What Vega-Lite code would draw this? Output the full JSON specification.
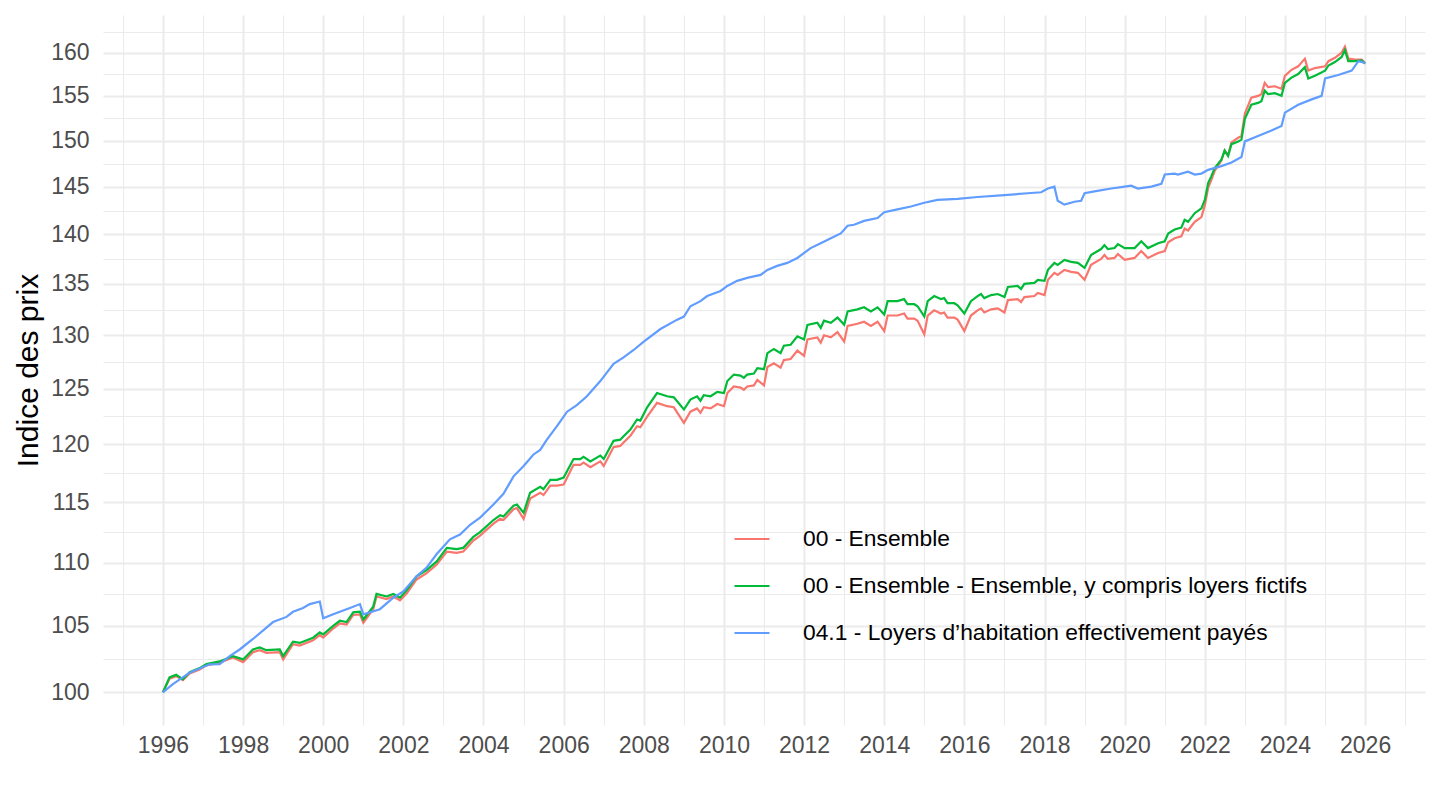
{
  "$schema": "https://vega.github.io/schema/vega-lite/v6.json",
  "width": 1322,
  "height": 710,
  "autosize": "none",
  "padding": {"left": 103, "top": 15, "right": 15, "bottom": 85},
  "background": "white",
  "config": {
    "view": {"stroke": null},
    "font": "Liberation Sans"
  },
  "datasets": {
    "ens": [
      {"d":"1996-01-01","v":100.0},{"d":"1996-03-01","v":101.0},{"d":"1996-05-01","v":101.2},{"d":"1996-07-01","v":100.9},{"d":"1996-09-01","v":101.4},{"d":"1996-12-01","v":101.7},
      {"d":"1997-02-01","v":102.0},{"d":"1997-06-01","v":102.2},{"d":"1997-10-01","v":102.6},
      {"d":"1998-01-01","v":102.25},{"d":"1998-04-01","v":103.0},{"d":"1998-06-01","v":103.15},{"d":"1998-08-01","v":102.95},{"d":"1998-12-01","v":103.0},
      {"d":"1999-01-01","v":102.45},{"d":"1999-04-01","v":103.6},{"d":"1999-06-01","v":103.5},{"d":"1999-10-01","v":103.9},{"d":"1999-12-01","v":104.3},
      {"d":"2000-01-01","v":104.1},{"d":"2000-04-01","v":104.8},{"d":"2000-06-01","v":105.2},{"d":"2000-08-01","v":105.1},{"d":"2000-10-01","v":105.85},{"d":"2000-12-01","v":105.9},
      {"d":"2001-01-01","v":105.25},{"d":"2001-04-01","v":106.3},{"d":"2001-05-01","v":107.3},{"d":"2001-08-01","v":107.1},{"d":"2001-10-01","v":107.3},{"d":"2001-12-01","v":107.0},
      {"d":"2002-02-01","v":107.55},{"d":"2002-05-01","v":108.65},{"d":"2002-08-01","v":109.15},{"d":"2002-11-01","v":109.85},
      {"d":"2003-02-01","v":110.9},{"d":"2003-05-01","v":110.8},{"d":"2003-07-01","v":110.9},{"d":"2003-10-01","v":111.8},{"d":"2003-12-01","v":112.2},
      {"d":"2004-04-01","v":113.2},{"d":"2004-06-01","v":113.6},{"d":"2004-07-01","v":113.5},{"d":"2004-10-01","v":114.4},{"d":"2004-11-01","v":114.5},
      {"d":"2005-01-01","v":113.6},{"d":"2005-03-01","v":115.3},{"d":"2005-06-01","v":115.8},{"d":"2005-07-01","v":115.6},{"d":"2005-09-01","v":116.4},{"d":"2005-11-01","v":116.4},
      {"d":"2006-01-01","v":116.5},{"d":"2006-04-01","v":118.2},{"d":"2006-06-01","v":118.2},{"d":"2006-07-01","v":118.4},{"d":"2006-09-01","v":118.0},{"d":"2006-12-01","v":118.5},
      {"d":"2007-01-01","v":118.1},{"d":"2007-04-01","v":119.75},{"d":"2007-06-01","v":119.85},{"d":"2007-07-01","v":120.15},{"d":"2007-09-01","v":120.75},{"d":"2007-11-01","v":121.6},{"d":"2007-12-01","v":121.5},
      {"d":"2008-02-01","v":122.45},{"d":"2008-05-01","v":123.7},{"d":"2008-08-01","v":123.4},{"d":"2008-10-01","v":123.3},
      {"d":"2009-01-01","v":121.9},{"d":"2009-03-01","v":122.9},{"d":"2009-05-01","v":123.2},{"d":"2009-06-01","v":122.8},{"d":"2009-07-01","v":123.3},{"d":"2009-09-01","v":123.2},{"d":"2009-11-01","v":123.6},
      {"d":"2010-01-01","v":123.4},{"d":"2010-02-01","v":124.6},{"d":"2010-04-01","v":125.2},{"d":"2010-06-01","v":125.1},{"d":"2010-07-01","v":124.9},{"d":"2010-08-01","v":125.2},{"d":"2010-10-01","v":125.3},{"d":"2010-11-01","v":125.8},
      {"d":"2011-01-01","v":125.3},{"d":"2011-02-01","v":127.0},{"d":"2011-04-01","v":127.35},{"d":"2011-06-01","v":126.95},{"d":"2011-07-01","v":127.65},{"d":"2011-09-01","v":127.75},{"d":"2011-11-01","v":128.55},
      {"d":"2012-01-01","v":128.05},{"d":"2012-02-01","v":129.6},{"d":"2012-05-01","v":129.8},{"d":"2012-06-01","v":129.3},{"d":"2012-07-01","v":130.0},{"d":"2012-09-01","v":129.8},{"d":"2012-11-01","v":130.3},
      {"d":"2013-01-01","v":129.4},{"d":"2013-02-01","v":130.9},{"d":"2013-05-01","v":131.1},{"d":"2013-07-01","v":131.3},{"d":"2013-09-01","v":130.9},{"d":"2013-11-01","v":131.3},
      {"d":"2014-01-01","v":130.4},{"d":"2014-02-01","v":131.9},{"d":"2014-05-01","v":131.9},{"d":"2014-07-01","v":132.1},{"d":"2014-08-01","v":131.6},{"d":"2014-10-01","v":131.6},{"d":"2014-11-01","v":131.4},
      {"d":"2015-01-01","v":130.1},{"d":"2015-02-01","v":131.9},{"d":"2015-04-01","v":132.4},{"d":"2015-06-01","v":132.1},{"d":"2015-07-01","v":132.2},{"d":"2015-08-01","v":131.7},{"d":"2015-10-01","v":131.7},{"d":"2015-11-01","v":131.5},
      {"d":"2016-01-01","v":130.4},{"d":"2016-03-01","v":131.9},{"d":"2016-05-01","v":132.4},{"d":"2016-06-01","v":132.6},{"d":"2016-07-01","v":132.2},{"d":"2016-09-01","v":132.5},{"d":"2016-11-01","v":132.6},
      {"d":"2017-01-01","v":132.2},{"d":"2017-02-01","v":133.4},{"d":"2017-05-01","v":133.5},{"d":"2017-06-01","v":133.2},{"d":"2017-07-01","v":133.7},{"d":"2017-10-01","v":133.8},{"d":"2017-11-01","v":134.1},
      {"d":"2018-01-01","v":133.9},{"d":"2018-02-01","v":135.4},{"d":"2018-04-01","v":136.1},{"d":"2018-05-01","v":135.9},{"d":"2018-07-01","v":136.4},{"d":"2018-09-01","v":136.2},{"d":"2018-11-01","v":136.1},
      {"d":"2019-01-01","v":135.4},{"d":"2019-03-01","v":136.9},{"d":"2019-05-01","v":137.3},{"d":"2019-06-01","v":137.5},{"d":"2019-07-01","v":137.9},{"d":"2019-08-01","v":137.5},{"d":"2019-10-01","v":137.6},{"d":"2019-11-01","v":138.0},
      {"d":"2020-01-01","v":137.4},{"d":"2020-04-01","v":137.6},{"d":"2020-06-01","v":138.3},{"d":"2020-08-01","v":137.6},{"d":"2020-11-01","v":138.1},
      {"d":"2021-01-01","v":138.3},{"d":"2021-02-01","v":139.2},{"d":"2021-04-01","v":139.6},{"d":"2021-06-01","v":139.8},{"d":"2021-07-01","v":140.6},{"d":"2021-08-01","v":140.4},{"d":"2021-10-01","v":141.3},{"d":"2021-12-01","v":141.8},
      {"d":"2022-01-01","v":143.0},{"d":"2022-02-01","v":144.9},{"d":"2022-03-01","v":145.7},{"d":"2022-04-01","v":146.7},{"d":"2022-06-01","v":147.8},{"d":"2022-07-01","v":148.9},{"d":"2022-08-01","v":148.4},{"d":"2022-09-01","v":149.8},{"d":"2022-11-01","v":150.3},{"d":"2022-12-01","v":150.5},
      {"d":"2023-01-01","v":153.0},{"d":"2023-03-01","v":154.8},{"d":"2023-05-01","v":155.0},{"d":"2023-06-01","v":155.2},{"d":"2023-07-01","v":156.5},{"d":"2023-08-01","v":156.0},{"d":"2023-10-01","v":156.1},{"d":"2023-12-01","v":155.8},
      {"d":"2024-01-01","v":157.3},{"d":"2024-03-01","v":158.0},{"d":"2024-05-01","v":158.4},{"d":"2024-07-01","v":159.3},{"d":"2024-08-01","v":157.9},{"d":"2024-10-01","v":158.2},
      {"d":"2025-01-01","v":158.4},{"d":"2025-02-01","v":159.0},{"d":"2025-04-01","v":159.4},{"d":"2025-06-01","v":160.0},{"d":"2025-07-01","v":160.7},{"d":"2025-08-01","v":159.3},{"d":"2025-10-01","v":159.2},{"d":"2025-12-01","v":159.2},
      {"d":"2026-01-01","v":158.8}
    ],
    "ensl": [
      {"d":"1996-01-01","v":100.0},{"d":"1996-03-01","v":101.1},{"d":"1996-05-01","v":101.3},{"d":"1996-07-01","v":100.96},{"d":"1996-09-01","v":101.5},{"d":"1996-12-01","v":101.8},
      {"d":"1997-02-01","v":102.1},{"d":"1997-06-01","v":102.3},{"d":"1997-10-01","v":102.7},
      {"d":"1998-01-01","v":102.45},{"d":"1998-04-01","v":103.2},{"d":"1998-06-01","v":103.36},{"d":"1998-08-01","v":103.15},{"d":"1998-12-01","v":103.2},
      {"d":"1999-01-01","v":102.7},{"d":"1999-04-01","v":103.8},{"d":"1999-06-01","v":103.7},{"d":"1999-10-01","v":104.1},{"d":"1999-12-01","v":104.5},
      {"d":"2000-01-01","v":104.35},{"d":"2000-04-01","v":105.0},{"d":"2000-06-01","v":105.4},{"d":"2000-08-01","v":105.3},{"d":"2000-10-01","v":106.05},{"d":"2000-12-01","v":106.1},
      {"d":"2001-01-01","v":105.5},{"d":"2001-04-01","v":106.5},{"d":"2001-05-01","v":107.5},{"d":"2001-08-01","v":107.3},{"d":"2001-10-01","v":107.5},{"d":"2001-12-01","v":107.2},
      {"d":"2002-02-01","v":107.8},{"d":"2002-05-01","v":108.9},{"d":"2002-08-01","v":109.4},{"d":"2002-11-01","v":110.1},
      {"d":"2003-02-01","v":111.2},{"d":"2003-05-01","v":111.1},{"d":"2003-07-01","v":111.2},{"d":"2003-10-01","v":112.1},{"d":"2003-12-01","v":112.5},
      {"d":"2004-04-01","v":113.5},{"d":"2004-06-01","v":113.9},{"d":"2004-07-01","v":113.8},{"d":"2004-10-01","v":114.7},{"d":"2004-11-01","v":114.8},
      {"d":"2005-01-01","v":114.1},{"d":"2005-03-01","v":115.8},{"d":"2005-06-01","v":116.3},{"d":"2005-07-01","v":116.1},{"d":"2005-09-01","v":116.9},{"d":"2005-11-01","v":116.9},
      {"d":"2006-01-01","v":117.1},{"d":"2006-04-01","v":118.7},{"d":"2006-06-01","v":118.7},{"d":"2006-07-01","v":118.9},{"d":"2006-09-01","v":118.5},{"d":"2006-12-01","v":119.0},
      {"d":"2007-01-01","v":118.7},{"d":"2007-04-01","v":120.3},{"d":"2007-06-01","v":120.4},{"d":"2007-07-01","v":120.7},{"d":"2007-09-01","v":121.3},{"d":"2007-11-01","v":122.2},{"d":"2007-12-01","v":122.1},
      {"d":"2008-02-01","v":123.3},{"d":"2008-05-01","v":124.6},{"d":"2008-08-01","v":124.3},{"d":"2008-10-01","v":124.2},
      {"d":"2009-01-01","v":123.1},{"d":"2009-03-01","v":124.0},{"d":"2009-05-01","v":124.3},{"d":"2009-06-01","v":123.9},{"d":"2009-07-01","v":124.4},{"d":"2009-09-01","v":124.3},{"d":"2009-11-01","v":124.7},
      {"d":"2010-01-01","v":124.6},{"d":"2010-02-01","v":125.7},{"d":"2010-04-01","v":126.3},{"d":"2010-06-01","v":126.2},{"d":"2010-07-01","v":126.0},{"d":"2010-08-01","v":126.3},{"d":"2010-10-01","v":126.4},{"d":"2010-11-01","v":126.9},
      {"d":"2011-01-01","v":126.8},{"d":"2011-02-01","v":128.3},{"d":"2011-04-01","v":128.7},{"d":"2011-06-01","v":128.3},{"d":"2011-07-01","v":129.0},{"d":"2011-09-01","v":129.1},{"d":"2011-11-01","v":129.9},
      {"d":"2012-01-01","v":129.6},{"d":"2012-02-01","v":131.0},{"d":"2012-05-01","v":131.2},{"d":"2012-06-01","v":130.7},{"d":"2012-07-01","v":131.4},{"d":"2012-09-01","v":131.2},{"d":"2012-11-01","v":131.7},
      {"d":"2013-01-01","v":131.0},{"d":"2013-02-01","v":132.3},{"d":"2013-05-01","v":132.5},{"d":"2013-07-01","v":132.7},{"d":"2013-09-01","v":132.3},{"d":"2013-11-01","v":132.7},
      {"d":"2014-01-01","v":132.0},{"d":"2014-02-01","v":133.3},{"d":"2014-05-01","v":133.3},{"d":"2014-07-01","v":133.5},{"d":"2014-08-01","v":133.0},{"d":"2014-10-01","v":133.0},{"d":"2014-11-01","v":132.8},
      {"d":"2015-01-01","v":131.8},{"d":"2015-02-01","v":133.3},{"d":"2015-04-01","v":133.8},{"d":"2015-06-01","v":133.5},{"d":"2015-07-01","v":133.6},{"d":"2015-08-01","v":133.1},{"d":"2015-10-01","v":133.1},{"d":"2015-11-01","v":132.9},
      {"d":"2016-01-01","v":132.1},{"d":"2016-03-01","v":133.3},{"d":"2016-05-01","v":133.8},{"d":"2016-06-01","v":134.0},{"d":"2016-07-01","v":133.6},{"d":"2016-09-01","v":133.9},{"d":"2016-11-01","v":134.0},
      {"d":"2017-01-01","v":133.7},{"d":"2017-02-01","v":134.7},{"d":"2017-05-01","v":134.8},{"d":"2017-06-01","v":134.5},{"d":"2017-07-01","v":135.0},{"d":"2017-10-01","v":135.1},{"d":"2017-11-01","v":135.4},
      {"d":"2018-01-01","v":135.3},{"d":"2018-02-01","v":136.4},{"d":"2018-04-01","v":137.1},{"d":"2018-05-01","v":136.9},{"d":"2018-07-01","v":137.4},{"d":"2018-09-01","v":137.2},{"d":"2018-11-01","v":137.1},
      {"d":"2019-01-01","v":136.6},{"d":"2019-03-01","v":137.9},{"d":"2019-05-01","v":138.3},{"d":"2019-06-01","v":138.5},{"d":"2019-07-01","v":138.9},{"d":"2019-08-01","v":138.5},{"d":"2019-10-01","v":138.6},{"d":"2019-11-01","v":139.0},
      {"d":"2020-01-01","v":138.6},{"d":"2020-04-01","v":138.6},{"d":"2020-06-01","v":139.3},{"d":"2020-08-01","v":138.6},{"d":"2020-11-01","v":139.1},
      {"d":"2021-01-01","v":139.3},{"d":"2021-02-01","v":140.1},{"d":"2021-04-01","v":140.5},{"d":"2021-06-01","v":140.7},{"d":"2021-07-01","v":141.5},{"d":"2021-08-01","v":141.3},{"d":"2021-10-01","v":142.2},{"d":"2021-12-01","v":142.7},
      {"d":"2022-01-01","v":143.6},{"d":"2022-02-01","v":145.4},{"d":"2022-03-01","v":146.1},{"d":"2022-04-01","v":147.0},{"d":"2022-06-01","v":147.9},{"d":"2022-07-01","v":148.9},{"d":"2022-08-01","v":148.3},{"d":"2022-09-01","v":149.6},{"d":"2022-11-01","v":149.9},{"d":"2022-12-01","v":150.1},
      {"d":"2023-01-01","v":152.4},{"d":"2023-03-01","v":154.0},{"d":"2023-05-01","v":154.2},{"d":"2023-06-01","v":154.4},{"d":"2023-07-01","v":155.6},{"d":"2023-08-01","v":155.2},{"d":"2023-10-01","v":155.3},{"d":"2023-12-01","v":155.0},
      {"d":"2024-01-01","v":156.5},{"d":"2024-03-01","v":157.1},{"d":"2024-05-01","v":157.5},{"d":"2024-07-01","v":158.3},{"d":"2024-08-01","v":157.0},{"d":"2024-10-01","v":157.3},
      {"d":"2025-01-01","v":157.9},{"d":"2025-02-01","v":158.5},{"d":"2025-04-01","v":158.9},{"d":"2025-06-01","v":159.5},{"d":"2025-07-01","v":160.3},{"d":"2025-08-01","v":159.0},{"d":"2025-10-01","v":159.0},{"d":"2025-12-01","v":159.1},
      {"d":"2026-01-01","v":158.7}
    ],
    "loy": [
      {"d":"1996-01-01","v":100.0},{"d":"1996-04-01","v":100.6},{"d":"1996-09-01","v":101.46},
      {"d":"1997-03-01","v":102.08},{"d":"1997-06-01","v":102.1},{"d":"1997-09-01","v":102.7},{"d":"1997-12-01","v":103.2},
      {"d":"1998-04-01","v":104.0},{"d":"1998-10-01","v":105.3},
      {"d":"1999-02-01","v":105.7},{"d":"1999-04-01","v":106.1},{"d":"1999-07-01","v":106.4},{"d":"1999-09-01","v":106.7},{"d":"1999-12-01","v":106.9},
      {"d":"2000-01-01","v":105.6},{"d":"2000-04-01","v":105.9},{"d":"2000-09-01","v":106.4},{"d":"2000-12-01","v":106.7},
      {"d":"2001-01-01","v":105.9},{"d":"2001-06-01","v":106.3},{"d":"2001-10-01","v":107.2},
      {"d":"2002-01-01","v":107.7},{"d":"2002-05-01","v":108.9},{"d":"2002-08-01","v":109.6},{"d":"2002-11-01","v":110.7},
      {"d":"2003-03-01","v":111.9},{"d":"2003-06-01","v":112.3},{"d":"2003-09-01","v":113.1},{"d":"2003-12-01","v":113.7},
      {"d":"2004-04-01","v":114.8},{"d":"2004-07-01","v":115.7},{"d":"2004-10-01","v":117.2},
      {"d":"2005-01-01","v":118.1},{"d":"2005-04-01","v":119.1},{"d":"2005-06-01","v":119.5},{"d":"2005-08-01","v":120.4},{"d":"2005-11-01","v":121.6},
      {"d":"2006-02-01","v":122.9},{"d":"2006-05-01","v":123.5},{"d":"2006-08-01","v":124.3},{"d":"2006-12-01","v":125.7},
      {"d":"2007-04-01","v":127.3},{"d":"2007-07-01","v":127.9},{"d":"2007-10-01","v":128.6},
      {"d":"2008-01-01","v":129.4},{"d":"2008-06-01","v":130.6},{"d":"2008-11-01","v":131.5},
      {"d":"2009-01-01","v":131.8},{"d":"2009-03-01","v":132.8},{"d":"2009-06-01","v":133.3},{"d":"2009-08-01","v":133.8},{"d":"2009-12-01","v":134.3},
      {"d":"2010-02-01","v":134.8},{"d":"2010-05-01","v":135.3},{"d":"2010-08-01","v":135.6},{"d":"2010-12-01","v":135.9},
      {"d":"2011-02-01","v":136.4},{"d":"2011-05-01","v":136.8},{"d":"2011-08-01","v":137.1},{"d":"2011-11-01","v":137.6},
      {"d":"2012-03-01","v":138.6},{"d":"2012-06-01","v":139.1},{"d":"2012-09-01","v":139.6},{"d":"2012-12-01","v":140.1},
      {"d":"2013-02-01","v":140.9},{"d":"2013-04-01","v":141.0},{"d":"2013-07-01","v":141.4},{"d":"2013-11-01","v":141.7},
      {"d":"2014-01-01","v":142.3},{"d":"2014-05-01","v":142.6},{"d":"2014-09-01","v":142.9},
      {"d":"2015-01-01","v":143.3},{"d":"2015-05-01","v":143.6},{"d":"2015-11-01","v":143.7},
      {"d":"2016-05-01","v":143.9},{"d":"2017-01-01","v":144.1},{"d":"2017-08-01","v":144.3},{"d":"2017-12-01","v":144.4},
      {"d":"2018-02-01","v":144.8},{"d":"2018-04-01","v":145.0},{"d":"2018-05-01","v":143.5},{"d":"2018-07-01","v":143.1},{"d":"2018-10-01","v":143.4},{"d":"2018-12-01","v":143.5},
      {"d":"2019-01-01","v":144.3},{"d":"2019-04-01","v":144.5},{"d":"2019-09-01","v":144.8},
      {"d":"2020-01-01","v":145.0},{"d":"2020-03-01","v":145.1},{"d":"2020-05-01","v":144.8},{"d":"2020-09-01","v":145.0},{"d":"2020-12-01","v":145.3},
      {"d":"2021-01-01","v":146.3},{"d":"2021-04-01","v":146.4},{"d":"2021-05-01","v":146.3},{"d":"2021-08-01","v":146.6},{"d":"2021-10-01","v":146.3},{"d":"2021-12-01","v":146.4},
      {"d":"2022-02-01","v":146.8},{"d":"2022-06-01","v":147.2},{"d":"2022-09-01","v":147.6},{"d":"2022-12-01","v":148.2},
      {"d":"2023-01-01","v":149.9},{"d":"2023-05-01","v":150.5},{"d":"2023-09-01","v":151.1},{"d":"2023-12-01","v":151.6},
      {"d":"2024-01-01","v":153.1},{"d":"2024-05-01","v":154.0},{"d":"2024-09-01","v":154.6},{"d":"2024-12-01","v":155.0},
      {"d":"2025-01-01","v":157.0},{"d":"2025-05-01","v":157.4},{"d":"2025-09-01","v":157.9},{"d":"2025-11-01","v":159.0},
      {"d":"2026-01-01","v":158.8}
    ]
  },
  "encoding": {
    "x": {
      "field": "d",
      "type": "temporal",
      "title": null,
      "scale": {"domain": [{"year": 1994, "month": 7, "date": 4}, {"year": 2027, "month": 7, "date": 1}]},
      "axis": {
        "values": [{"year":1995},{"year":1996},{"year":1997},{"year":1998},{"year":1999},{"year":2000},{"year":2001},{"year":2002},{"year":2003},{"year":2004},{"year":2005},{"year":2006},{"year":2007},{"year":2008},{"year":2009},{"year":2010},{"year":2011},{"year":2012},{"year":2013},{"year":2014},{"year":2015},{"year":2016},{"year":2017},{"year":2018},{"year":2019},{"year":2020},{"year":2021},{"year":2022},{"year":2023},{"year":2024},{"year":2025},{"year":2026},{"year":2027}],
        "labelExpr": "year(datum.value) % 2 == 0 ? timeFormat(datum.value, '%Y') : ''",
        "grid": true,
        "gridColor": "#EBEBEB",
        "gridWidth": {"condition": {"test": "year(datum.value) % 2 == 0", "value": 2}, "value": 1},
        "ticks": false,
        "domain": false,
        "labelFontSize": 23,
        "labelColor": "#4D4D4D",
        "labelPadding": 9,
        "labelFlush": false,
        "labelOverlap": false
      }
    },
    "y": {
      "field": "v",
      "type": "quantitative",
      "title": "Indice des prix",
      "scale": {"type": "log", "domain": [97.63, 164.49], "nice": false, "zero": false},
      "axis": {
        "values": [100, 102.47, 105, 107.47, 110, 112.47, 115, 117.47, 120, 122.47, 125, 127.48, 130, 132.48, 135, 137.48, 140, 142.48, 145, 147.48, 150, 152.48, 155, 157.48, 160, 162.48],
        "labelExpr": "datum.value % 5 == 0 ? format(datum.value, 'd') : ''",
        "grid": true,
        "gridColor": "#EBEBEB",
        "gridWidth": {"condition": {"test": "datum.value % 5 == 0", "value": 2}, "value": 1},
        "ticks": false,
        "domain": false,
        "labelFontSize": 23,
        "labelColor": "#4D4D4D",
        "labelPadding": 14,
        "labelOverlap": false,
        "titleFontSize": 30,
        "titleFontWeight": "normal",
        "titleColor": "#000000",
        "titlePadding": 7
      }
    }
  },
  "layer": [
    {
      "data": {"name": "ens"},
      "mark": {"type": "line", "strokeWidth": 2.2},
      "encoding": {
        "color": {
          "datum": "00 - Ensemble",
          "type": "nominal",
          "scale": {
            "domain": ["00 - Ensemble", "00 - Ensemble - Ensemble, y compris loyers fictifs", "04.1 - Loyers d’habitation effectivement payés"],
            "range": ["#F8766D", "#00BA38", "#619CFF"]
          },
          "legend": {
            "title": null,
            "orient": "none",
            "legendX": 630,
            "legendY": 505,
            "symbolType": "stroke",
            "symbolSize": 1225,
            "symbolStrokeWidth": 2.2,
            "labelFontSize": 22.8,
            "labelColor": "#000000",
            "labelOffset": 32,
            "rowPadding": 16,
            "padding": 0,
            "labelLimit": 800
          }
        }
      }
    },
    {
      "data": {"name": "ensl"},
      "mark": {"type": "line", "strokeWidth": 2.2},
      "encoding": {"color": {"datum": "00 - Ensemble - Ensemble, y compris loyers fictifs", "type": "nominal"}}
    },
    {
      "data": {"name": "loy"},
      "mark": {"type": "line", "strokeWidth": 2.2},
      "encoding": {"color": {"datum": "04.1 - Loyers d’habitation effectivement payés", "type": "nominal"}}
    }
  ]
}
